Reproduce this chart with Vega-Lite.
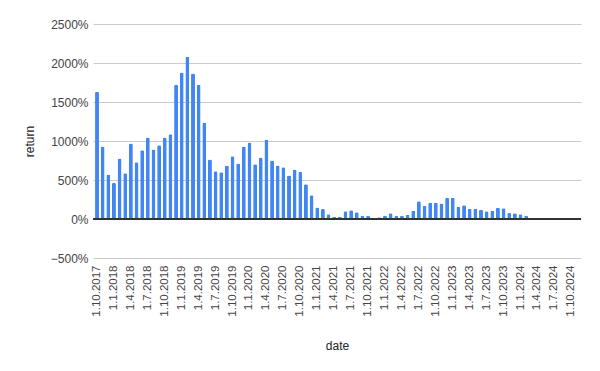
{
  "$schema": "https://vega.github.io/schema/vega-lite/v6.json",
  "width": 488,
  "height": 234,
  "autosize": "none",
  "padding": {"left": 93, "top": 24, "right": 19, "bottom": 113},
  "background": "white",
  "config": {
    "view": {"stroke": null},
    "font": "Liberation Sans"
  },
  "data": {
    "values": [
      {"date": "1.10.2017", "return": 1630},
      {"date": "1.11.2017", "return": 931},
      {"date": "1.12.2017", "return": 572},
      {"date": "1.1.2018", "return": 461},
      {"date": "1.2.2018", "return": 777},
      {"date": "1.3.2018", "return": 585},
      {"date": "1.4.2018", "return": 969},
      {"date": "1.5.2018", "return": 726},
      {"date": "1.6.2018", "return": 880},
      {"date": "1.7.2018", "return": 1046},
      {"date": "1.8.2018", "return": 892},
      {"date": "1.9.2018", "return": 944},
      {"date": "1.10.2018", "return": 1046},
      {"date": "1.11.2018", "return": 1085},
      {"date": "1.12.2018", "return": 1720},
      {"date": "1.1.2019", "return": 1879},
      {"date": "1.2.2019", "return": 2080},
      {"date": "1.3.2019", "return": 1866},
      {"date": "1.4.2019", "return": 1721},
      {"date": "1.5.2019", "return": 1234},
      {"date": "1.6.2019", "return": 764},
      {"date": "1.7.2019", "return": 611},
      {"date": "1.8.2019", "return": 598},
      {"date": "1.9.2019", "return": 687},
      {"date": "1.10.2019", "return": 803},
      {"date": "1.11.2019", "return": 713},
      {"date": "1.12.2019", "return": 931},
      {"date": "1.1.2020", "return": 982},
      {"date": "1.2.2020", "return": 703},
      {"date": "1.3.2020", "return": 790},
      {"date": "1.4.2020", "return": 1020},
      {"date": "1.5.2020", "return": 751},
      {"date": "1.6.2020", "return": 687},
      {"date": "1.7.2020", "return": 662},
      {"date": "1.8.2020", "return": 559},
      {"date": "1.9.2020", "return": 636},
      {"date": "1.10.2020", "return": 602},
      {"date": "1.11.2020", "return": 444},
      {"date": "1.12.2020", "return": 303},
      {"date": "1.1.2021", "return": 149},
      {"date": "1.2.2021", "return": 128},
      {"date": "1.3.2021", "return": 60},
      {"date": "1.4.2021", "return": 30},
      {"date": "1.5.2021", "return": 25},
      {"date": "1.6.2021", "return": 98},
      {"date": "1.7.2021", "return": 111},
      {"date": "1.8.2021", "return": 85},
      {"date": "1.9.2021", "return": 43},
      {"date": "1.10.2021", "return": 43},
      {"date": "1.11.2021", "return": 9},
      {"date": "1.12.2021", "return": 21},
      {"date": "1.1.2022", "return": 43},
      {"date": "1.2.2022", "return": 73},
      {"date": "1.3.2022", "return": 43},
      {"date": "1.4.2022", "return": 43},
      {"date": "1.5.2022", "return": 55},
      {"date": "1.6.2022", "return": 107},
      {"date": "1.7.2022", "return": 226},
      {"date": "1.8.2022", "return": 171},
      {"date": "1.9.2022", "return": 213},
      {"date": "1.10.2022", "return": 213},
      {"date": "1.11.2022", "return": 200},
      {"date": "1.12.2022", "return": 273},
      {"date": "1.1.2023", "return": 273},
      {"date": "1.2.2023", "return": 158},
      {"date": "1.3.2023", "return": 175},
      {"date": "1.4.2023", "return": 132},
      {"date": "1.5.2023", "return": 132},
      {"date": "1.6.2023", "return": 120},
      {"date": "1.7.2023", "return": 98},
      {"date": "1.8.2023", "return": 107},
      {"date": "1.9.2023", "return": 145},
      {"date": "1.10.2023", "return": 137},
      {"date": "1.11.2023", "return": 77},
      {"date": "1.12.2023", "return": 73},
      {"date": "1.1.2024", "return": 60},
      {"date": "1.2.2024", "return": 43},
      {"date": "1.3.2024", "return": 9},
      {"date": "1.4.2024", "return": 0},
      {"date": "1.5.2024", "return": 9},
      {"date": "1.6.2024", "return": 0},
      {"date": "1.7.2024", "return": 0},
      {"date": "1.8.2024", "return": 0},
      {"date": "1.9.2024", "return": 9},
      {"date": "1.10.2024", "return": 9},
      {"date": "1.11.2024", "return": 0}
    ]
  },
  "layer": [
    {
      "mark": {"type": "bar", "color": "#4285F4", "cornerRadiusTopLeft": 1.5, "cornerRadiusTopRight": 1.5},
      "encoding": {
        "x": {
          "field": "date",
          "type": "nominal",
          "sort": null,
          "scale": {"paddingInner": 0.3, "paddingOuter": 0.36},
          "axis": {
            "title": "date",
            "values": ["1.10.2017","1.1.2018","1.4.2018","1.7.2018","1.10.2018","1.1.2019","1.4.2019","1.7.2019","1.10.2019","1.1.2020","1.4.2020","1.7.2020","1.10.2020","1.1.2021","1.4.2021","1.7.2021","1.10.2021","1.1.2022","1.4.2022","1.7.2022","1.10.2022","1.1.2023","1.4.2023","1.7.2023","1.10.2023","1.1.2024","1.4.2024","1.7.2024","1.10.2024"],
            "labelAngle": 270,
            "labelFontSize": 11.5,
            "labelColor": "#444444",
            "labelPadding": 7,
            "labelOverlap": false,
            "ticks": false,
            "domain": false,
            "grid": false,
            "titleFontSize": 12,
            "titleFontWeight": "normal",
            "titleColor": "#222222",
            "titleBaseline": "middle",
            "titleY": 87
          }
        },
        "y": {
          "field": "return",
          "type": "quantitative",
          "scale": {"domain": [-500, 2500], "nice": false, "zero": false},
          "axis": {
            "title": "return",
            "values": [-500, 0, 500, 1000, 1500, 2000, 2500],
            "tickCount": 12,
            "format": "d",
            "labelExpr": "datum.label + '%'",
            "labelFontSize": 12,
            "labelColor": "#444444",
            "labelPadding": 5,
            "labelOverlap": false,
            "ticks": false,
            "domain": false,
            "grid": true,
            "gridColor": "#cccccc",
            "gridWidth": 1,
            "titleFontSize": 12,
            "titleFontWeight": "normal",
            "titleColor": "#222222",
            "titleX": -57
          }
        }
      }
    },
    {
      "mark": {"type": "rule", "color": "#333333", "strokeWidth": 1},
      "encoding": {"y": {"datum": 0}}
    }
  ]
}
